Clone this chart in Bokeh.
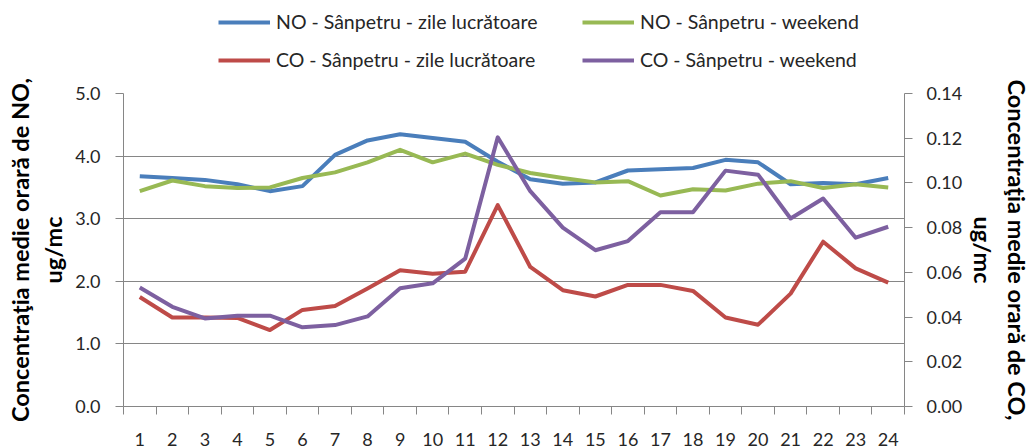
from bokeh.plotting import figure
from bokeh.layouts import column
from bokeh.models import (Range1d, LinearAxis, FixedTicker, NumeralTickFormatter,
                          Legend, LegendItem)
from bokeh.embed import file_html
from bokeh.resources import INLINE

# ---- data ----
hours = list(range(1, 25))
no_work = [3.68, 3.65, 3.62, 3.55, 3.44, 3.52, 4.02, 4.25, 4.35, 4.29, 4.23, 3.91,
           3.63, 3.56, 3.58, 3.77, 3.79, 3.81, 3.94, 3.90, 3.55, 3.57, 3.55, 3.65]
no_weekend = [3.44, 3.61, 3.52, 3.49, 3.50, 3.65, 3.74, 3.90, 4.10, 3.90, 4.04, 3.86,
              3.73, 3.65, 3.58, 3.60, 3.37, 3.47, 3.45, 3.56, 3.60, 3.49, 3.55, 3.50]
co_work = [0.0490, 0.0398, 0.0398, 0.0396, 0.0342, 0.0432, 0.0450, 0.0528, 0.0609, 0.0594,
           0.0603, 0.0901, 0.0624, 0.0520, 0.0492, 0.0544, 0.0544, 0.0517, 0.0398, 0.0366,
           0.0505, 0.0737, 0.0618, 0.0554]
co_weekend = [0.0532, 0.0446, 0.0394, 0.0406, 0.0406, 0.0354, 0.0364, 0.0403, 0.0529, 0.0551,
              0.0661, 0.1204, 0.0963, 0.0800, 0.0699, 0.0740, 0.0869, 0.0869, 0.1055, 0.1037,
              0.0841, 0.0930, 0.0755, 0.0804]
no_ticks = [0, 1, 2, 3, 4, 5]
co_ticks = [0.0, 0.02, 0.04, 0.06, 0.08, 0.10, 0.12, 0.14]
series_names = ["NO - Sânpetru - zile lucrătoare", "NO - Sânpetru - weekend",
                "CO - Sânpetru - zile lucrătoare", "CO - Sânpetru - weekend"]
series_colors = ["#4A7EBB", "#98B954", "#BE4B48", "#7D60A0"]
series_values = [no_work, no_weekend, co_work, co_weekend]
left_title = "Concentraţia medie orară de NO,\nug/mc"
right_title = "Concentraţia medie orară de CO,\nug/mc"

FONT = "Lato"
AX = "#868686"
TXT = "#262626"
W = 4
TITLE_SIZE = "23.5px"

# ---------------- main chart ----------------
p = figure(width=1033, height=376, output_backend="svg", toolbar_location=None,
           x_range=Range1d(0.5, 24.5), y_range=Range1d(0, 5),
           min_border_left=123, min_border_right=128, min_border_top=21,
           min_border_bottom=41)
p.outline_line_color = None
p.background_fill_color = "white"
p.border_fill_color = "white"
p.extra_y_ranges = {"co": Range1d(0, 0.14)}

# x axis: labels at hour centres, tick marks between categories
xa = p.xaxis[0]
xa.ticker = FixedTicker(ticks=hours, minor_ticks=[h - 0.5 for h in hours] + [hours[-1] + 0.5])
xa.major_tick_out = 0
xa.major_tick_in = 0
xa.minor_tick_out = 8
xa.minor_tick_in = 0
xa.minor_tick_line_color = AX
xa.axis_line_color = AX
xa.major_label_standoff = 18
xa.major_label_text_font = FONT
xa.major_label_text_font_size = "18px"
xa.major_label_text_color = TXT

# left axis
ya = p.yaxis[0]
ya.ticker = FixedTicker(ticks=no_ticks)
ya.formatter = NumeralTickFormatter(format="0.0")
ya.major_tick_out = 8
ya.major_tick_in = 0
ya.minor_tick_line_color = None
ya.axis_line_color = AX
ya.major_tick_line_color = AX
ya.major_label_standoff = 15
ya.major_label_text_font = FONT
ya.major_label_text_font_size = "18px"
ya.major_label_text_color = TXT
ya.axis_label = left_title
ya.axis_label_text_font = FONT
ya.axis_label_text_font_style = "bold"
ya.axis_label_text_font_size = TITLE_SIZE
ya.axis_label_text_color = "black"
ya.axis_label_text_line_height = 1.2
ya.axis_label_standoff = 5

# right axis
ra = LinearAxis(y_range_name="co", ticker=FixedTicker(ticks=co_ticks),
                formatter=NumeralTickFormatter(format="0.00"))
ra.major_tick_out = 8
ra.major_tick_in = 0
ra.minor_tick_line_color = None
ra.axis_line_color = AX
ra.major_tick_line_color = AX
ra.major_label_standoff = 14
ra.major_label_text_font = FONT
ra.major_label_text_font_size = "18px"
ra.major_label_text_color = TXT
ra.axis_label = right_title
ra.axis_label_text_font = FONT
ra.axis_label_text_font_style = "bold"
ra.axis_label_text_font_size = TITLE_SIZE
ra.axis_label_text_color = "black"
ra.axis_label_text_line_height = 1.2
ra.axis_label_standoff = 4
p.add_layout(ra, "right")

p.xgrid.visible = False
p.ygrid.grid_line_color = AX
p.ygrid.grid_line_width = 1

for vals, col, rng in zip(series_values, series_colors, ["default", "default", "co", "co"]):
    p.line(hours, vals, line_color=col, line_width=W, line_join="round", y_range_name=rng)

# ---------------- legend strip above the chart ----------------
# the strip's ranges exclude the data, so only the legend swatches show
lg = figure(width=1033, height=72, output_backend="svg", toolbar_location=None,
            x_range=Range1d(-2, -1), y_range=Range1d(-2, -1),
            x_axis_location=None, y_axis_location=None, min_border=0)
lg.outline_line_color = None
lg.grid.visible = False
lg.background_fill_color = "white"
lg.border_fill_color = "white"
swatches = [lg.line(hours, vals, line_color=col, line_width=W)
            for vals, col in zip(series_values, series_colors)]

legend = Legend(items=[LegendItem(label=series_names[i], renderers=[swatches[i]])
                       for i in range(4)],
                location=(95, 1), orientation="horizontal", ncols=2,
                padding=0, margin=0, spacing=15, glyph_width=52, glyph_height=22,
                label_height=22, label_width=291, label_standoff=6,
                border_line_color=None, background_fill_alpha=0,
                label_text_font=FONT, label_text_font_size="19.5px",
                label_text_color=TXT)
lg.add_layout(legend)

layout = column(lg, p, spacing=0)
open("out.html", "w").write(file_html(layout, INLINE))
